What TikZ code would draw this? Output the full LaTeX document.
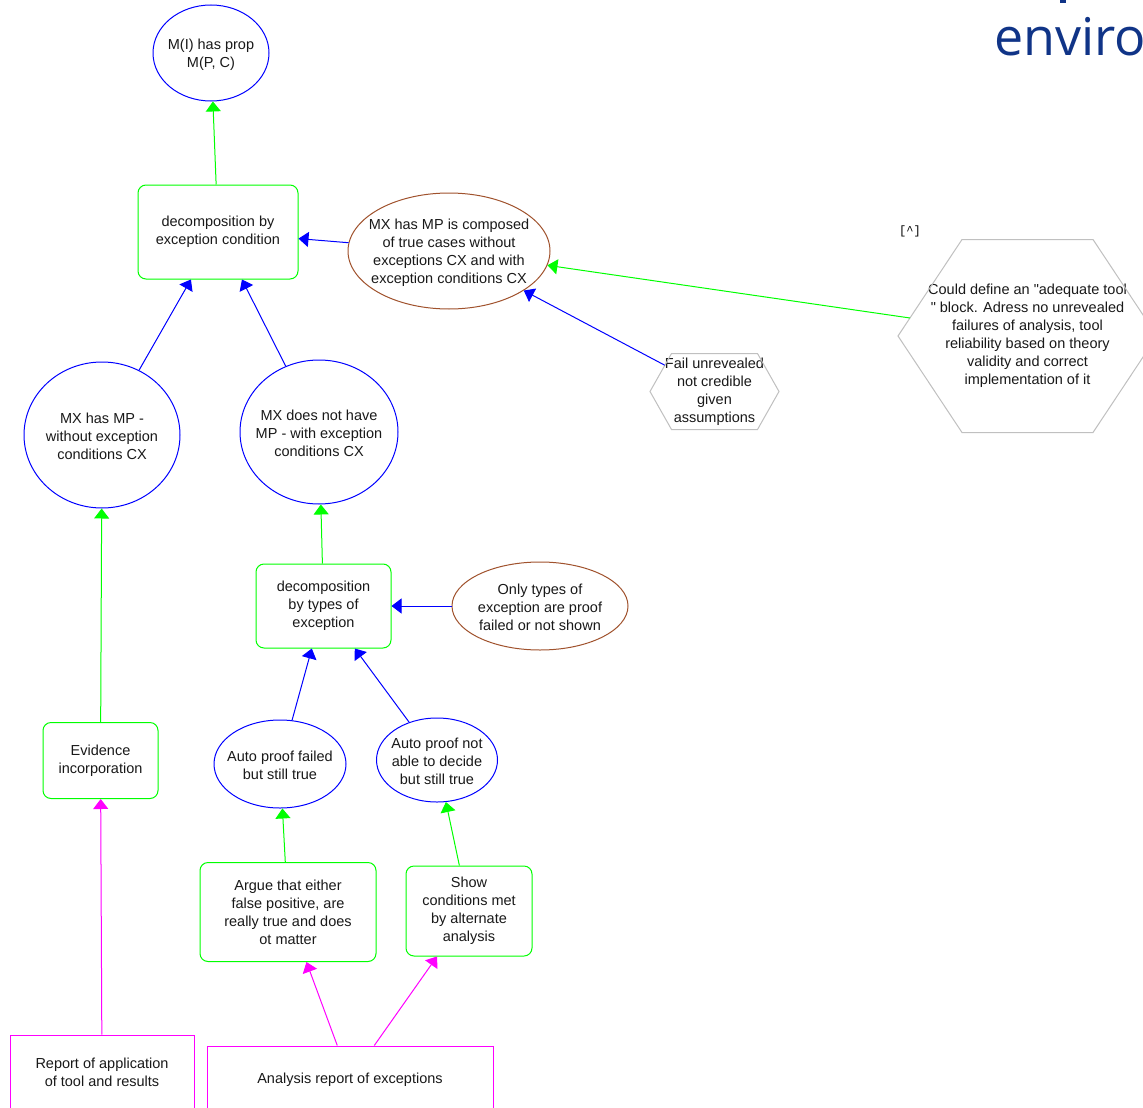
\documentclass[tikz,border=0pt]{standalone}
\usepackage{fontspec}
\setmainfont{Liberation Sans}
\setmonofont{Liberation Mono}
\newfontfamily\headfont{Open Sans}
\usetikzlibrary{shapes.geometric,arrows.meta}

\definecolor{sienna}{RGB}{160,82,45}
\definecolor{hexgray}{RGB}{192,192,192}
\definecolor{navy}{RGB}{16,52,135}
\definecolor{pureblue}{RGB}{0,0,255}
\definecolor{puregreen}{RGB}{0,255,0}
\definecolor{puremagenta}{RGB}{255,0,255}

\begin{document}
\begin{tikzpicture}[x=1pt,y=-1pt,
  lbl/.style={align=center, inner sep=0pt, text=black!90,
    font=\fontsize{14.5pt}{18pt}\selectfont},
  ltxt/.style={lbl, yshift=-1.5pt},
  oval/.style={ellipse, draw=pureblue, line width=1pt, inner sep=0pt},
  claim/.style={oval, draw=sienna},
  gbox/.style={lbl, draw=puregreen, line width=1pt, rounded corners=8pt},
  mbox/.style={lbl, draw=puremagenta, line width=1pt},
  hexline/.style={draw=hexgray, line width=1pt},
  arr/.style={-{Triangle[length=10pt,width=15pt]}, line width=1pt}
]
\useasboundingbox (0,0) rectangle (1143,1108);
\fill[white] (0,0) rectangle (1143,1108);
\clip (0,0) rectangle (1143,1108);

% heading fragment in the upper right corner
\fill[navy] (1060,0) rectangle (1066,3);
\node[anchor=base west, inner sep=0pt, text=navy,
  font=\headfont\fontsize{52pt}{60pt}\selectfont] (env) at (994,56) {enviro};
\node[inner sep=0pt, font=\ttfamily\fontsize{12pt}{14pt}\selectfont] (caret) at (910,231) {[\textasciicircum]};

% goal ellipses
\node[oval, minimum width=116pt, minimum height=96pt] (mi) at (211,53) {};
\node[ltxt] (mi-t) at (mi.center) {M(I) has prop\\M(P, C)};

\node[oval, minimum width=156pt, minimum height=146pt] (mxhas) at (102,435) {};
\node[ltxt] (mxhas-t) at (mxhas.center) {MX has MP -\\without exception\\conditions CX};

\node[oval, minimum width=158pt, minimum height=144pt] (mxnot) at (319,432) {};
\node[ltxt] (mxnot-t) at (mxnot.center) {MX does not have\\MP - with exception\\conditions CX};

\node[oval, minimum width=132pt, minimum height=88pt] (autof) at (280,764) {};
\node[ltxt] (autof-t) at (autof.center) {Auto proof failed\\but still true};

\node[oval, minimum width=121pt, minimum height=84pt] (auton) at (437,760) {};
\node[ltxt] (auton-t) at (auton.center) {Auto proof not\\able to decide\\but still true};

% context ellipses
\node[claim, minimum width=202pt, minimum height=116pt] (mxcomp) at (449,251) {};
\node[ltxt] (mxcomp-t) at (mxcomp.center) {MX has MP is composed\\of true cases without\\exceptions CX and with\\exception conditions CX};

\node[claim, minimum width=176pt, minimum height=88pt] (onlyt) at (540,606) {};
\node[ltxt] (onlyt-t) at (onlyt.center) {Only types of\\exception are proof\\failed or not shown};

% strategies
\node[gbox, minimum width=160pt, minimum height=94pt] (dec1) at (218,232) {decomposition by\\exception condition};
\node[gbox, minimum width=135pt, minimum height=84pt] (dec2) at (323.5,606) {decomposition\\by types of\\exception};
\node[gbox, minimum width=115pt, minimum height=76pt] (evid) at (100.5,760.5) {Evidence\\incorporation};
\node[gbox, minimum width=176pt, minimum height=99pt] (argue) at (288,912) {Argue that either\\false positive, are\\really true and does\\ot matter};
\node[gbox, minimum width=126pt, minimum height=90pt] (show) at (469,911) {Show\\conditions met\\by alternate\\analysis};

% evidence reports
\node[mbox, minimum width=184pt, minimum height=75pt] (repapp) at (102,1072.5) {Report of application\\of tool and results};
\node[mbox, minimum width=286pt, minimum height=68pt] (anrep) at (350,1080) {Analysis report of exceptions};

% hexagon notes
\node[ltxt] (fail-t) at (714.5,390) {Fail unrevealed\\not credible\\given\\assumptions};
\draw[hexline] ([shift={(-64.5,0)}]fail-t.center) -- ([shift={(-43,-38)}]fail-t.center)
  -- ([shift={(43,-38)}]fail-t.center) -- ([shift={(64.5,0)}]fail-t.center)
  -- ([shift={(43,38)}]fail-t.center) -- ([shift={(-43,38)}]fail-t.center) -- cycle;

\node[ltxt] (could-t) at (1027.5,334.5) {Could define an \textquotedbl adequate tool\\\textquotedbl{} block. Adress no unrevealed\\failures of analysis, tool\\reliability based on theory\\validity and correct\\implementation of it};
\draw[hexline] ([shift={(-129.5,0)}]could-t.center) -- ([shift={(-65.5,-96.5)}]could-t.center)
  -- ([shift={(65.5,-96.5)}]could-t.center) -- ([shift={(129.5,0)}]could-t.center)
  -- ([shift={(65.5,96.5)}]could-t.center) -- ([shift={(-65.5,96.5)}]could-t.center) -- cycle;
\coordinate (could-w) at ([shift={(-117.5,-18)}]could-t.center);

% connectors
\draw[arr, puregreen] (dec1) -- (mi);
\draw[arr, pureblue] (mxhas) -- (dec1);
\draw[arr, pureblue] (mxnot) -- (dec1);
\draw[arr, pureblue] (mxcomp) -- (dec1);
\draw[arr, pureblue] (fail-t) -- (mxcomp);
\draw[arr, puregreen] (could-w) -- (mxcomp);
\draw[arr, puregreen] (dec2) -- (mxnot);
\draw[arr, pureblue] (onlyt) -- (dec2);
\draw[arr, puregreen] (evid) -- (mxhas);
\draw[arr, pureblue] (autof) -- (dec2);
\draw[arr, pureblue] (auton) -- (dec2);
\draw[arr, puregreen] (argue) -- (autof);
\draw[arr, puregreen] (show) -- (auton);
\draw[arr, puremagenta] (repapp) -- (evid);
\draw[arr, puremagenta] (anrep) -- (argue);
\draw[arr, puremagenta] (anrep) -- (show);
\end{tikzpicture}
\end{document}
